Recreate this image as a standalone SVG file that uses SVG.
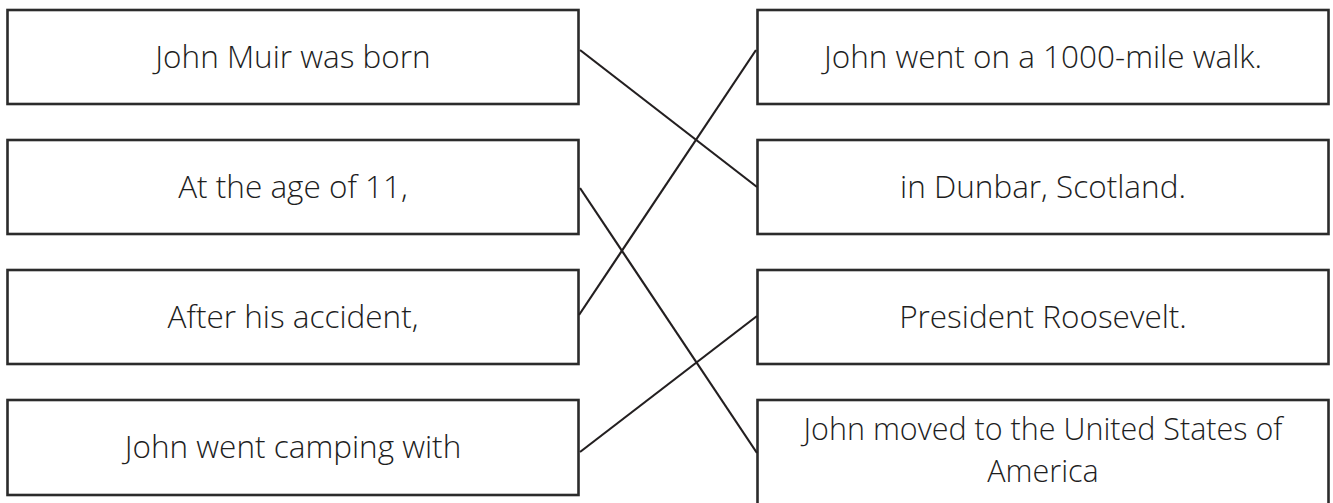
<svg xmlns="http://www.w3.org/2000/svg" width="1333" height="503" viewBox="0 0 1333 503">
<style>
.box{fill:#ffffff;stroke:#2b2b2b;stroke-width:2.6}
.lbl{font-family:"Open Sans","Liberation Sans",sans-serif;font-weight:300;font-size:31.5px;fill:#1e1e1e;text-anchor:middle}
.sm{font-size:30.5px}
.conn{stroke:#231f20;stroke-width:2.2;fill:none;stroke-linecap:butt}
</style>
<rect width="1333" height="503" fill="#ffffff"/>
<g id="L1"><rect class="box" x="7.5" y="10" width="571" height="94"/><text class="lbl" x="293" y="68">John Muir was born</text></g>
<g id="L2"><rect class="box" x="7.5" y="140" width="571" height="94"/><text class="lbl" x="293" y="198">At the age of 11,</text></g>
<g id="L3"><rect class="box" x="7.5" y="270" width="571" height="94"/><text class="lbl" x="293" y="328">After his accident,</text></g>
<g id="L4"><rect class="box" x="7.5" y="400" width="571" height="95"/><text class="lbl" x="293" y="458">John went camping with</text></g>
<g id="R1"><rect class="box" x="757.5" y="10" width="571" height="94"/><text class="lbl" x="1043" y="68">John went on a 1000-mile walk.</text></g>
<g id="R2"><rect class="box" x="757.5" y="140" width="571" height="94"/><text class="lbl" x="1043" y="198">in Dunbar, Scotland.</text></g>
<g id="R3"><rect class="box" x="757.5" y="270" width="571" height="94"/><text class="lbl" x="1043" y="328">President Roosevelt.</text></g>
<g id="R4"><rect class="box" x="757.5" y="400" width="571" height="120"/><text class="lbl sm" x="1043" y="440">John moved to the United States of</text><text class="lbl sm" x="1043" y="482">America</text></g>
<g id="connectors">
<line class="conn" x1="580" y1="50" x2="757" y2="187"/>
<line class="conn" x1="579" y1="315" x2="756" y2="50"/>
<line class="conn" x1="580" y1="188" x2="757" y2="453"/>
<line class="conn" x1="580" y1="452" x2="757" y2="316"/>
</g>
</svg>
